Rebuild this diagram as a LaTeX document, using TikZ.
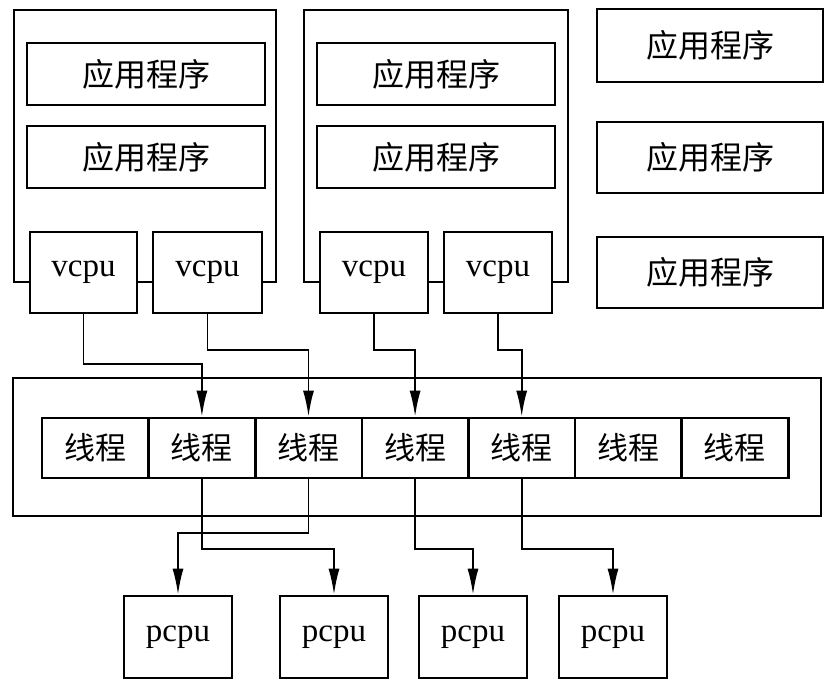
\documentclass[tikz,border=0pt]{standalone}
\usepackage{fontspec}
\setmainfont{Liberation Serif}
\newfontfamily\cjk{Noto Sans CJK SC}
\usetikzlibrary{arrows.meta}
\begin{document}
\begin{tikzpicture}[x=1pt,y=-1pt,
  frame/.style={draw=black, line width=2.6pt, inner sep=0pt, fill=none},
  box/.style={draw=black, line width=2.6pt, inner sep=0pt, fill=white},
  app/.style={box, minimum width=238pt, minimum height=62pt, font=\cjk\fontsize{32}{38}\selectfont},
  rapp/.style={box, minimum width=226pt, minimum height=72pt, font=\cjk\fontsize{32}{38}\selectfont},
  cpubox/.style={box, minimum width=108pt, minimum height=81pt, font=\fontsize{33}{40}\selectfont},
  thr/.style={box, minimum width=106.6pt, minimum height=60pt, font=\cjk\fontsize{31}{37}\selectfont},
  arr/.style={line width=1.9pt, -{Latex[length=26pt,width=11pt]}}
]
\useasboundingbox (0,0) rectangle (837,685);

% virtual machine frames
\node[frame, minimum width=262pt, minimum height=272pt] (vm1) at (145,146) {};
\node[frame, minimum width=264pt, minimum height=272pt] (vm2) at (436,146) {};

% applications inside VMs
\node[app] (a1) at (146,74) {应用程序};
\node[app] (a2) at (146,157) {应用程序};
\node[app] (a3) at (436,74) {应用程序};
\node[app] (a4) at (436,157) {应用程序};

% standalone applications
\node[rapp, minimum height=73pt] (r1) at (710,45.5) {应用程序};
\node[rapp, minimum height=71pt] (r2) at (710,157.5) {应用程序};
\node[rapp, minimum height=71pt] (r3) at (710,272.5) {应用程序};

% vcpus
\node[cpubox, minimum width=107pt] (v1) at (83.5,272.5) {vcpu};
\node[cpubox, minimum width=109pt] (v2) at (207.5,272.5) {vcpu};
\node[cpubox] (v3) at (374,272.5) {vcpu};
\node[cpubox] (v4) at (498,272.5) {vcpu};

% host frame
\node[frame, minimum width=808pt, minimum height=138pt] (host) at (417,447) {};

% threads
\node[thr] (t1) at (95.3,448) {线程};
\node[thr] (t2) at (201.9,448) {线程};
\node[thr] (t3) at (308.5,448) {线程};
\node[thr] (t4) at (415.1,448) {线程};
\node[thr] (t5) at (521.7,448) {线程};
\node[thr] (t6) at (628.3,448) {线程};
\node[thr] (t7) at (734.9,448) {线程};

% pcpus
\node[cpubox, minimum height=82pt] (p1) at (178,637) {pcpu};
\node[cpubox, minimum height=82pt] (p2) at (334,637) {pcpu};
\node[cpubox, minimum height=82pt] (p3) at (473,637) {pcpu};
\node[cpubox, minimum height=82pt] (p4) at (613,637) {pcpu};

% vcpu -> thread
\draw[arr] (v1.south) -- ++(0,50) -| (t2.north);
\draw[arr] (v2.south) -- ++(0,36) -| (t3.north);
\draw[arr] (v3.south) -- ++(0,36) -| (t4.north);
\draw[arr] (v4.south) -- ++(0,36) -| (t5.north);

% thread -> pcpu
\draw[arr] (t2.south) -- ++(0,70) -| (p2.north);
\draw[arr] (t3.south) -- ++(0,54) -| (p1.north);
\draw[arr] (t4.south) -- ++(0,70) -| (p3.north);
\draw[arr] (t5.south) -- ++(0,70) -| (p4.north);
\end{tikzpicture}
\end{document}
